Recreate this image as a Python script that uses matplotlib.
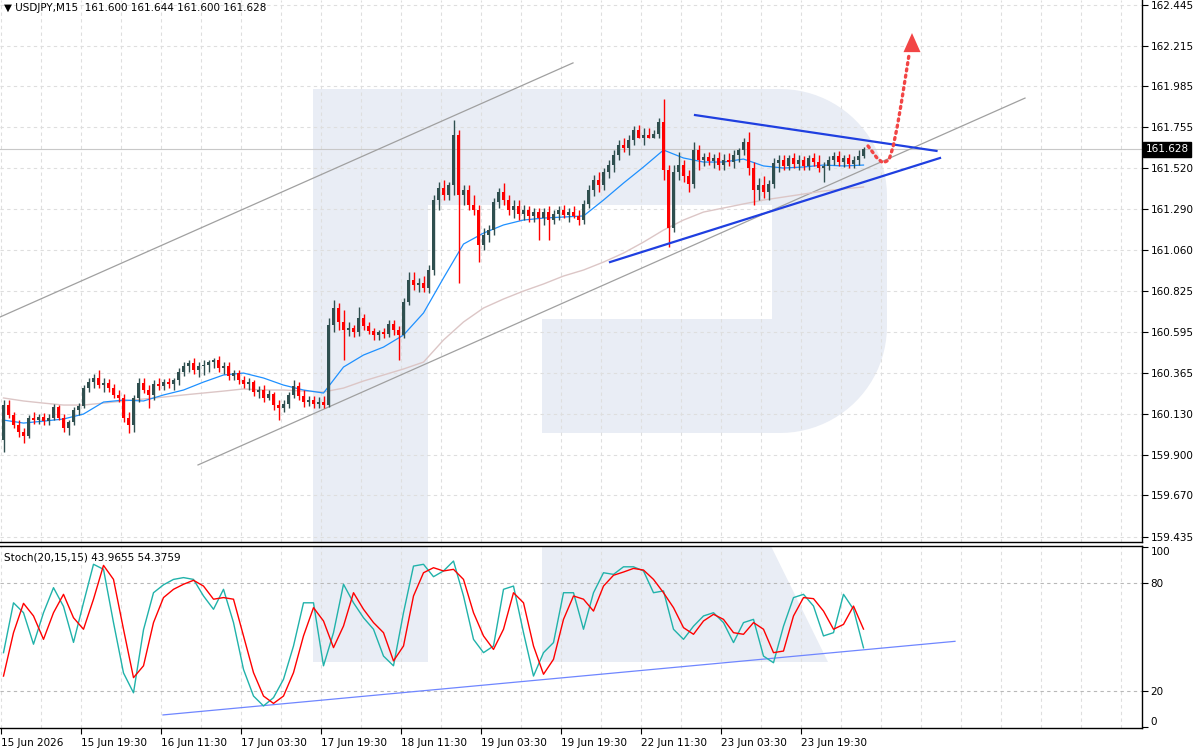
import numpy as np
import matplotlib
matplotlib.use("Agg")
import matplotlib.pyplot as plt
import matplotlib.transforms as mtransforms
from matplotlib.patches import Polygon

# ---------------- data ----------------
symbol = "USDJPY,M15"
header_ohlc = [161.600, 161.644, 161.600, 161.628]
last_price = 161.628
stoch_name = "Stoch(20,15,15)"
stoch_last = [43.9655, 54.3759]

# hourly candles (one per hour of M15 chart)
opens = [159.983, 160.181, 160.124, 160.068, 160.028, 160.006, 160.107, 160.096, 160.113, 160.090,
         160.107, 160.170, 160.107, 160.051, 160.085, 160.153, 160.175, 160.277, 160.311, 160.334,
         160.294, 160.306, 160.277, 160.238, 160.221, 160.107, 160.068, 160.221, 160.306, 160.266,
         160.238, 160.300, 160.289, 160.311, 160.300, 160.323, 160.368, 160.402, 160.419, 160.379,
         160.402, 160.407, 160.424, 160.436, 160.391, 160.402, 160.345, 160.362, 160.323, 160.300,
         160.311, 160.255, 160.266, 160.221, 160.243, 160.181, 160.164, 160.187, 160.238, 160.289,
         160.232, 160.198, 160.209, 160.187, 160.198, 160.181, 160.634, 160.730, 160.651, 160.606,
         160.617, 160.594, 160.673, 160.628, 160.600, 160.577, 160.594, 160.583, 160.640, 160.606,
         160.577, 160.764, 160.888, 160.860, 160.872, 160.843, 160.945, 161.341, 161.409, 161.370,
         161.426, 161.709, 161.370, 161.398, 161.313, 161.285, 161.086, 161.143, 161.171, 161.330,
         161.387, 161.341, 161.285, 161.307, 161.262, 161.285, 161.251, 161.273, 161.239, 161.273,
         161.228, 161.262, 161.285, 161.256, 161.273, 161.251, 161.228, 161.319, 161.398, 161.454,
         161.426, 161.500, 161.539, 161.596, 161.653, 161.636, 161.681, 161.737, 161.692, 161.709,
         161.692, 161.715, 161.783, 161.511, 161.183, 161.500, 161.539, 161.477, 161.432, 161.624,
         161.568, 161.585, 161.562, 161.579, 161.539, 161.568, 161.556, 161.596, 161.624, 161.670,
         161.522, 161.398, 161.426, 161.387, 161.432, 161.551, 161.568, 161.534, 161.579, 161.545,
         161.568, 161.534, 161.579, 161.556, 161.522, 161.534, 161.568, 161.590, 161.556, 161.579,
         161.545, 161.568, 161.590]
highs = [160.209, 160.209, 160.141, 160.096, 160.051, 160.124, 160.141, 160.130, 160.136, 160.130,
         160.187, 160.181, 160.130, 160.096, 160.170, 160.192, 160.294, 160.334, 160.357, 160.379,
         160.334, 160.328, 160.300, 160.266, 160.243, 160.141, 160.238, 160.334, 160.334, 160.294,
         160.323, 160.334, 160.328, 160.334, 160.334, 160.391, 160.424, 160.436, 160.447, 160.424,
         160.436, 160.436, 160.447, 160.458, 160.424, 160.424, 160.379, 160.379, 160.345, 160.334,
         160.323, 160.289, 160.294, 160.266, 160.255, 160.209, 160.209, 160.255, 160.323, 160.311,
         160.266, 160.232, 160.232, 160.226, 160.232, 160.673, 160.775, 160.758, 160.719, 160.651,
         160.634, 160.736, 160.696, 160.651, 160.617, 160.606, 160.617, 160.662, 160.662, 160.628,
         160.787, 160.934, 160.934, 160.900, 160.911, 160.973, 161.370, 161.443, 161.454, 161.443,
         161.794, 161.737, 161.426, 161.426, 161.370, 161.313, 161.183, 161.200, 161.353, 161.409,
         161.437, 161.370, 161.341, 161.341, 161.313, 161.307, 161.296, 161.296, 161.296, 161.307,
         161.285, 161.307, 161.313, 161.296, 161.307, 161.285, 161.341, 161.426, 161.483, 161.500,
         161.522, 161.568, 161.624, 161.681, 161.692, 161.709, 161.760, 161.766, 161.749, 161.749,
         161.737, 161.805, 161.913, 161.539, 161.539, 161.613, 161.568, 161.511, 161.670, 161.653,
         161.607, 161.613, 161.602, 161.613, 161.602, 161.607, 161.624, 161.636, 161.692, 161.726,
         161.556, 161.466, 161.477, 161.454, 161.579, 161.596, 161.596, 161.596, 161.607, 161.596,
         161.590, 161.596, 161.607, 161.596, 161.556, 161.590, 161.613, 161.619, 161.596, 161.602,
         161.590, 161.624, 161.644]
lows = [159.915, 160.107, 160.051, 160.000, 159.966, 159.994, 160.073, 160.073, 160.068, 160.068,
        160.096, 160.096, 160.028, 160.011, 160.068, 160.124, 160.164, 160.255, 160.277, 160.277,
        160.255, 160.255, 160.221, 160.198, 160.085, 160.023, 160.028, 160.198, 160.249, 160.164,
        160.209, 160.266, 160.266, 160.277, 160.266, 160.294, 160.345, 160.368, 160.357, 160.340,
        160.351, 160.368, 160.391, 160.368, 160.357, 160.323, 160.323, 160.300, 160.277, 160.266,
        160.232, 160.221, 160.198, 160.209, 160.153, 160.096, 160.141, 160.164, 160.221, 160.209,
        160.170, 160.175, 160.164, 160.164, 160.164, 160.170, 160.594, 160.606, 160.436, 160.572,
        160.566, 160.572, 160.606, 160.583, 160.549, 160.549, 160.560, 160.566, 160.577, 160.436,
        160.560, 160.747, 160.832, 160.821, 160.821, 160.815, 160.917, 161.285, 161.341, 161.341,
        161.370, 160.871, 161.313, 161.285, 161.256, 160.991, 161.058, 161.103, 161.143, 161.296,
        161.313, 161.256, 161.239, 161.228, 161.228, 161.217, 161.217, 161.115, 161.200, 161.115,
        161.205, 161.228, 161.239, 161.217, 161.239, 161.200, 161.205, 161.296, 161.364, 161.387,
        161.398, 161.466, 161.500, 161.568, 161.613, 161.596, 161.653, 161.692, 161.653, 161.692,
        161.692, 161.692, 161.454, 161.075, 161.160, 161.454, 161.443, 161.387, 161.409, 161.511,
        161.534, 161.539, 161.522, 161.511, 161.511, 161.534, 161.522, 161.556, 161.596, 161.483,
        161.313, 161.341, 161.353, 161.341, 161.409, 161.500, 161.511, 161.511, 161.522, 161.511,
        161.511, 161.511, 161.534, 161.500, 161.443, 161.511, 161.539, 161.534, 161.528, 161.522,
        161.522, 161.539, 161.579]
closes = [160.181, 160.124, 160.068, 160.028, 160.006, 160.107, 160.096, 160.113, 160.090, 160.107,
          160.170, 160.107, 160.051, 160.085, 160.153, 160.175, 160.277, 160.311, 160.334, 160.294,
          160.306, 160.277, 160.238, 160.221, 160.107, 160.068, 160.221, 160.306, 160.266, 160.238,
          160.300, 160.289, 160.311, 160.300, 160.323, 160.368, 160.402, 160.419, 160.379, 160.402,
          160.407, 160.424, 160.436, 160.391, 160.402, 160.345, 160.362, 160.323, 160.300, 160.311,
          160.255, 160.266, 160.221, 160.243, 160.181, 160.164, 160.187, 160.238, 160.289, 160.232,
          160.198, 160.209, 160.187, 160.198, 160.181, 160.634, 160.730, 160.651, 160.606, 160.617,
          160.594, 160.673, 160.628, 160.600, 160.577, 160.594, 160.583, 160.640, 160.606, 160.577,
          160.764, 160.888, 160.860, 160.872, 160.843, 160.945, 161.341, 161.409, 161.370, 161.426,
          161.709, 161.370, 161.398, 161.313, 161.285, 161.086, 161.143, 161.171, 161.330, 161.387,
          161.341, 161.285, 161.307, 161.262, 161.285, 161.251, 161.273, 161.239, 161.273, 161.228,
          161.262, 161.285, 161.256, 161.273, 161.251, 161.228, 161.319, 161.398, 161.454, 161.426,
          161.500, 161.539, 161.596, 161.653, 161.636, 161.681, 161.737, 161.692, 161.709, 161.692,
          161.715, 161.783, 161.511, 161.183, 161.500, 161.539, 161.477, 161.432, 161.624, 161.568,
          161.585, 161.562, 161.579, 161.539, 161.568, 161.556, 161.596, 161.624, 161.670, 161.522,
          161.398, 161.426, 161.387, 161.432, 161.551, 161.568, 161.534, 161.579, 161.545, 161.568,
          161.534, 161.579, 161.556, 161.522, 161.534, 161.568, 161.590, 161.556, 161.579, 161.545,
          161.568, 161.590, 161.628]

# moving averages, one reading every 4 hours
ma_fast = [160.096, 160.079, 160.090, 160.102, 160.130, 160.198, 160.209, 160.204, 160.238, 160.266,
           160.311, 160.351, 160.362, 160.334, 160.294, 160.266, 160.249, 160.396, 160.464, 160.509,
           160.577, 160.702, 160.900, 161.092, 161.154, 161.200, 161.228, 161.239, 161.245, 161.251,
           161.341, 161.437, 161.528, 161.624, 161.579, 161.556, 161.556, 161.573, 161.534, 161.522,
           161.528, 161.539, 161.534, 161.539]
ma_slow = [160.221, 160.204, 160.192, 160.181, 160.181, 160.192, 160.204, 160.215, 160.226, 160.238,
           160.249, 160.260, 160.272, 160.266, 160.266, 160.260, 160.255, 160.277, 160.317, 160.351,
           160.385, 160.424, 160.549, 160.651, 160.730, 160.781, 160.826, 160.866, 160.911, 160.945,
           160.990, 161.041, 161.103, 161.171, 161.228, 161.273, 161.296, 161.319, 161.341, 161.358,
           161.375, 161.392, 161.404, 161.415]

# stochastic, one reading every 2 hours
stoch_k = [41.3, 69, 63.5, 46, 63.5, 77.4, 67, 47, 69, 90.4,
           87.6, 58, 30, 19, 54, 74.6, 79, 82, 83, 82,
           72.8, 65.4, 76.5, 58, 32, 17.2, 11.7, 16.3, 26.5, 45,
           69, 69, 34, 52.4, 79.3, 69, 60.7, 54.3, 39.4, 34,
           63.5, 89.4, 90.4, 83.5, 86.7, 92.2, 72.8, 48.7, 41.3, 45,
           76.5, 78.3, 52.4, 28.3, 41.3, 46.9, 74.6, 74.6, 54.3, 74.6,
           85.7, 84.8, 89, 89, 86.7, 74.6, 75.6, 54.3, 48.7, 56,
           61.7, 63.5, 58, 46.9, 58, 59.8, 39.4, 35.7, 56, 71.9,
           73.7, 67.2, 50.6, 52.4, 73.7, 65.4, 44.0]
stoch_d = [28.3, 52.4, 68.7, 61.7, 48.7, 63.5, 73.7, 60.7, 54.3, 71,
           89.8, 82, 54.3, 27.4, 34, 58, 71.9, 76.5, 79.3, 81.5,
           78.3, 71, 71.9, 71, 50.6, 30.2, 17.2, 13.1, 17.2, 30.2,
           50.6, 66.3, 58.9, 44.1, 56.1, 74.6, 65.4, 58, 52.4, 36.7,
           45, 72.8, 85.7, 88.5, 86.7, 87.6, 82, 63.5, 50.6, 43.1,
           54.3, 74.6, 69, 45, 29.3, 37.6, 59.8, 72.8, 71, 64.4,
           78.3, 84.3, 86.1, 88.1, 87.2, 82, 74.6, 66.3, 55.2, 51.5,
           58.9, 62.6, 59.8, 52.4, 51.5, 58, 54.3, 41.3, 42.2, 61.7,
           71.9, 71.3, 64.4, 54.3, 57, 67.2, 54.4]

x_labels = ["15 Jun 2026", "15 Jun 19:30", "16 Jun 11:30", "17 Jun 03:30", "17 Jun 19:30",
            "18 Jun 11:30", "19 Jun 03:30", "19 Jun 19:30", "22 Jun 11:30", "23 Jun 03:30",
            "23 Jun 19:30"]
price_ticks = [162.445, 162.215, 161.985, 161.755, 161.520, 161.290, 161.060,
               160.825, 160.595, 160.365, 160.130, 159.900, 159.670, 159.435]
stoch_ticks = [0, 20, 80, 100]
stoch_levels = [20, 80]

# drawn analysis objects (hour index, price / value)
channel_upper = ([-0.7, 113.9], [160.679, 162.117])
channel_lower = ([38.9, 204.3], [159.842, 161.918])
triangle_upper = ([138.3, 186.6], [161.822, 161.619])
triangle_lower = ([121.3, 187.3], [160.990, 161.579])
stoch_trend = ([31.9, 190.3], [6.7, 47.6])
forecast_h = [172.9, 174.7, 175.9, 177.1, 177.9, 178.7, 179.5, 180.3, 181.1]
forecast_p = [161.647, 161.579, 161.551, 161.568, 161.641, 161.749, 161.879, 162.020, 162.162]
forecast_head_h = [180.0, 181.7, 183.4]
forecast_head_p = [162.178, 162.286, 162.178]

# ---------------- styling ----------------
BULL = "#2f4f4f"
BEAR = "#ff0000"
WM = "#e9edf5"
GRID = "#dedede"
FS = 7.5
plt.rcParams["font.family"] = ["DejaVu Sans"]

W, H = 1200, 753
fig = plt.figure(figsize=(W / 100, H / 100), dpi=100)
fig.patch.set_facecolor("white")

def fx(px):
    return px / W

def fy(py):
    return 1 - py / H

ax = fig.add_axes([0, fy(542), fx(1142), 542 / H])
ax2 = fig.add_axes([0, fy(728), fx(1142), (728 - 546) / H])

px_tr = mtransforms.Affine2D().scale(1 / W, -1 / H).translate(0, 1) + fig.transFigure

# watermark logo (pixel space)
top_arc = [(780 + 107 * np.cos(t), 196 - 107 * np.sin(t)) for t in np.radians(np.linspace(90, 0, 24))]
bot_arc = [(780 + 107 * np.cos(t), 326 - 107 * np.sin(t)) for t in np.radians(np.linspace(0, -90, 24))]
logo = [(313, 89)] + top_arc + bot_arc + [(542, 433), (542, 319), (772, 319), (772, 205),
                                           (428, 205), (428, 662), (313, 662)]
leg = [(542, 540), (768, 540), (828, 662), (542, 662)]
for a in (ax, ax2):
    a.add_patch(Polygon(logo, closed=True, transform=px_tr, fc=WM, ec="none", zorder=0.2))
ax2.add_patch(Polygon(leg, closed=True, transform=px_tr, fc=WM, ec="none", zorder=0.2))

n = len(closes)
xh = np.arange(n)
o = np.array(opens); h = np.array(highs); l = np.array(lows); c = np.array(closes)
xlim = (-0.7, 227.7)

# ---- main panel ----
ax.set_xlim(*xlim)
ax.set_ylim(159.406, 162.473)
for p in price_ticks:
    ax.axhline(p, color=GRID, lw=0.8, dashes=(3, 3), zorder=1)
for xv in np.arange(-0.5, 227, 8):
    ax.axvline(xv, color=GRID, lw=0.8, dashes=(3, 3), zorder=1)
    ax2.axvline(xv, color=GRID, lw=0.8, dashes=(3, 3), zorder=1)
ax.axhline(last_price, color="#c8c8c8", lw=0.8, zorder=1.2)

ax.plot(channel_upper[0], channel_upper[1], color="#a0a0a0", lw=0.9, zorder=2)
ax.plot(channel_lower[0], channel_lower[1], color="#a0a0a0", lw=0.9, zorder=2)
ax.plot(np.arange(len(ma_slow)) * 4, ma_slow, color="#dcc6c6", lw=1.0, zorder=2.2)
ax.plot(np.arange(len(ma_fast)) * 4, ma_fast, color="#1e90ff", lw=0.9, zorder=2.4)

cols = np.where(c >= o, BULL, BEAR)
ax.vlines(xh, l, h, colors=cols, lw=1.0, zorder=3)
ax.bar(xh, np.maximum(np.abs(c - o), 0.006), bottom=np.minimum(o, c), width=0.78,
       color=cols, lw=0, zorder=3.1)

ax.plot(triangle_upper[0], triangle_upper[1], color="#1f3fe0", lw=1.6, zorder=4)
ax.plot(triangle_lower[0], triangle_lower[1], color="#1f3fe0", lw=1.6, zorder=4)
ax.plot(forecast_h, forecast_p, color="#f24545", lw=2.4, dashes=(0.6, 1.3),
        dash_capstyle="round", zorder=4)
ax.add_patch(Polygon(list(zip(forecast_head_h, forecast_head_p)), closed=True,
                     fc="#f24545", ec="none", zorder=4))

ax.yaxis.tick_right()
ax.set_yticks(price_ticks)
ax.set_yticklabels([f"{p:.3f}" for p in price_ticks])
ax.set_xticks([])
ax.tick_params(axis="y", direction="out", length=4, width=0.8, pad=2, labelsize=FS, colors="black")
for s in ("left", "top"):
    ax.spines[s].set_visible(False)
for s in ("right", "bottom"):
    ax.spines[s].set_color("black")
    ax.spines[s].set_linewidth(1.0)

ax.text(1.003, last_price, f"{last_price:.3f}", transform=mtransforms.blended_transform_factory(ax.transAxes, ax.transData),
        color="white", fontsize=FS, va="center", ha="left",
        bbox=dict(fc="black", ec="black", pad=1.6), zorder=10, clip_on=False)

fig.text(fx(4), fy(8), "\u25BC " + symbol + "  " + " ".join(f"{v:.3f}" for v in header_ohlc),
         fontsize=FS, va="center", ha="left", color="black")

# ---- stochastic panel ----
ax2.set_xlim(*xlim)
ax2.set_ylim(-0.56, 100.56)
for lv in stoch_levels:
    ax2.axhline(lv, color="#b8b8b8", lw=0.8, dashes=(3, 3), zorder=1)
ax2.plot(stoch_trend[0], stoch_trend[1], color="#6f86ff", lw=0.9, zorder=2)
xs = np.arange(len(stoch_k)) * 2
ax2.plot(xs, stoch_k, color="#20b2aa", lw=1.0, zorder=3)
ax2.plot(xs, stoch_d, color="#ff0000", lw=1.0, zorder=3.2)

ax2.yaxis.tick_right()
ax2.set_yticks(stoch_ticks)
ax2.set_yticklabels([str(t) for t in stoch_ticks])
ax2.tick_params(axis="y", direction="out", length=4, width=0.8, pad=2, labelsize=FS, colors="black")
ylabs = ax2.get_yticklabels()
ylabs[0].set_va("bottom")
ylabs[-1].set_va("top")

ax2.set_xticks(np.arange(len(x_labels)) * 16 - 0.5)
ax2.set_xticklabels(x_labels)
ax2.tick_params(axis="x", direction="out", length=4, width=0.8, pad=3, labelsize=FS, colors="black")
for t in ax2.get_xticklabels():
    t.set_ha("left")
ax2.spines["left"].set_visible(False)
for s in ("right", "bottom", "top"):
    ax2.spines[s].set_color("black")
    ax2.spines[s].set_linewidth(1.0)

fig.text(fx(4), fy(557), f"{stoch_name} {stoch_last[0]:.4f} {stoch_last[1]:.4f}",
         fontsize=FS, va="center", ha="left", color="black")

fig.savefig("out.png", dpi=100, facecolor="white")
